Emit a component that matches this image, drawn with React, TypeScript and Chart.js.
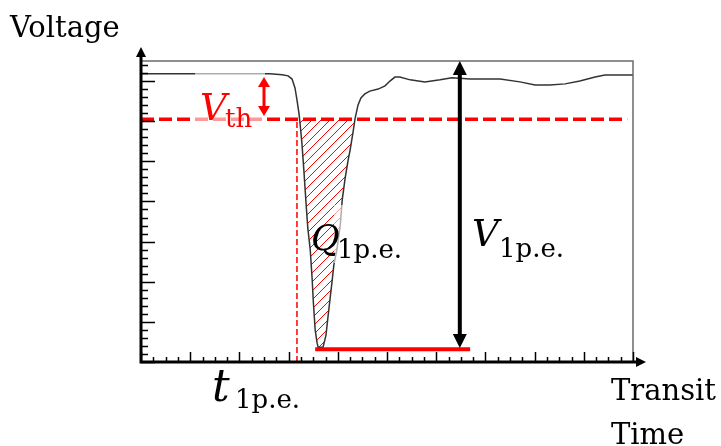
import React, { useEffect, useRef } from "react";
import { Chart, registerables } from "chart.js";

Chart.register(...registerables);

// Pulse waveform (transit time in axis units, voltage in axis units)
const timeValues = [
  0.0, 0.39, 1.2, 2.01, 2.62, 2.87, 2.99, 3.07, 3.13, 3.17, 3.21, 3.23, 3.27, 3.31,
  3.35, 3.39, 3.44, 3.48, 3.5, 3.54, 3.58, 3.6, 3.7, 3.76, 3.8, 3.84, 3.88, 3.92,
  3.98, 4.05, 4.09, 4.15, 4.21, 4.25, 4.31, 4.35, 4.41, 4.47, 4.55, 4.65, 4.82,
  4.96, 5.06, 5.16, 5.26, 5.47, 5.77, 6.08, 6.32, 6.69, 7.3, 7.7, 8.01, 8.31, 8.62,
  8.92, 9.23, 9.43, 9.74, 10.0,
];
const voltageValues = [
  7.18, 7.18, 7.18, 7.18, 7.18, 7.16, 7.13, 7.05, 6.83, 6.53, 6.2, 5.98, 5.46, 4.78,
  4.04, 3.34, 2.79, 2.04, 1.55, 0.8, 0.47, 0.37, 0.37, 0.67, 1.12, 1.55, 1.97, 2.42,
  2.79, 3.41, 4.04, 4.59, 5.03, 5.28, 5.73, 6.06, 6.4, 6.58, 6.68, 6.75, 6.8,
  6.88, 7.0, 7.1, 7.1, 7.03, 6.98, 7.03, 7.08, 7.05, 7.05, 6.98, 6.9, 6.9, 6.93,
  7.0, 7.1, 7.15, 7.15, 7.15,
];

// Axis extents and tick steps
const timeRange = [0, 10];
const voltageRange = [0, 7.5];
const timeMajorStep = 1;
const timeMinorStep = 0.25;
const voltageMajorStep = 1;
const voltageMinorStep = 0.2;

// Annotations
const thresholdVoltage = 6.05;
const thresholdLineEnd = 9.88;
const crossingTime = 3.17;
const thresholdArrowTime = 2.5;
const thresholdArrowSpan = [7.1, 6.13];
const amplitudeTime = 6.48;
const amplitudeSpan = [7.5, 0.35];
const peakLevel = 0.32;
const peakBarSpan = [3.54, 6.69];

const RED = "#ff0000";
const SERIF = '"DejaVu Serif", "Liberation Serif", serif';

function makeHatch(): CanvasPattern | string {
  const s = 9;
  const c = document.createElement("canvas");
  c.width = s;
  c.height = s;
  const g = c.getContext("2d");
  if (!g) return "rgba(255,0,0,0.3)";
  g.strokeStyle = RED;
  g.lineWidth = 1;
  g.beginPath();
  g.moveTo(0, s);
  g.lineTo(s, 0);
  g.moveTo(-1, 1);
  g.lineTo(1, -1);
  g.moveTo(s - 1, s + 1);
  g.lineTo(s + 1, s - 1);
  g.stroke();
  const p = g.createPattern(c, "repeat");
  return p || "rgba(255,0,0,0.3)";
}

function arrowHead(
  ctx: CanvasRenderingContext2D,
  tipX: number,
  tipY: number,
  dx: number,
  dy: number,
  len: number,
  half: number,
  color: string
) {
  // (dx, dy) is the unit direction the head points to
  const bx = tipX - dx * len;
  const by = tipY - dy * len;
  ctx.fillStyle = color;
  ctx.beginPath();
  ctx.moveTo(tipX, tipY);
  ctx.lineTo(bx - dy * half, by + dx * half);
  ctx.lineTo(bx + dy * half, by - dx * half);
  ctx.closePath();
  ctx.fill();
}

function drawSymbol(
  ctx: CanvasRenderingContext2D,
  main: string,
  sub: string,
  x: number,
  y: number,
  mainSize: number,
  subDx: number,
  subDy: number,
  color: string
) {
  ctx.fillStyle = color;
  ctx.textBaseline = "alphabetic";
  ctx.textAlign = "left";
  ctx.font = `italic ${mainSize}px ${SERIF}`;
  ctx.fillText(main, x, y);
  ctx.font = `26px ${SERIF}`;
  ctx.fillText(sub, x + subDx, y + subDy);
}

const decorations = {
  id: "pulseDecorations",
  afterDatasetsDraw(chart: any) {
    const { ctx, chartArea } = chart;
    const xs = chart.scales.x;
    const ys = chart.scales.y;
    const { left, right, top, bottom } = chartArea;
    ctx.save();

    // translucent label backgrounds
    ctx.fillStyle = "rgba(255,255,255,0.6)";
    ctx.fillRect(195, 68, 70, 62);
    ctx.fillRect(334, 205, 66, 58);

    // plot frame (top and right)
    ctx.strokeStyle = "#6b6b6b";
    ctx.lineWidth = 1.5;
    ctx.beginPath();
    ctx.moveTo(left, top);
    ctx.lineTo(right, top);
    ctx.lineTo(right, bottom);
    ctx.stroke();

    // ticks, drawn inward
    ctx.strokeStyle = "#000";
    ctx.lineWidth = 1.5;
    ctx.beginPath();
    for (let v = voltageRange[0]; v <= voltageRange[1] + 1e-9; v += voltageMinorStep) {
      const major = Math.abs(v / voltageMajorStep - Math.round(v / voltageMajorStep)) < 1e-6;
      const py = Math.round(ys.getPixelForValue(v)) + 0.5;
      ctx.moveTo(left, py);
      ctx.lineTo(left + (major ? 14 : 7), py);
    }
    for (let t = timeRange[0]; t <= timeRange[1] + 1e-9; t += timeMinorStep) {
      const major = Math.abs(t / timeMajorStep - Math.round(t / timeMajorStep)) < 1e-6;
      const px = Math.round(xs.getPixelForValue(t)) + 0.5;
      ctx.moveTo(px, bottom);
      ctx.lineTo(px, bottom - (major ? 10 : 5));
    }
    ctx.stroke();

    // axes with arrows
    ctx.lineWidth = 3;
    ctx.beginPath();
    ctx.moveTo(left, bottom + 1.5);
    ctx.lineTo(left, top - 8);
    ctx.moveTo(left - 1.5, bottom);
    ctx.lineTo(right + 8, bottom);
    ctx.stroke();
    arrowHead(ctx, left, top - 14, 0, -1, 10, 5, "#000");
    arrowHead(ctx, right + 13, bottom, 1, 0, 10, 5, "#000");

    // threshold arrow
    const tx = xs.getPixelForValue(thresholdArrowTime);
    const tTop = ys.getPixelForValue(thresholdArrowSpan[0]);
    const tBot = ys.getPixelForValue(thresholdArrowSpan[1]);
    ctx.strokeStyle = RED;
    ctx.lineWidth = 3;
    ctx.beginPath();
    ctx.moveTo(tx, tTop + 8);
    ctx.lineTo(tx, tBot - 8);
    ctx.stroke();
    arrowHead(ctx, tx, tTop, 0, -1, 10, 6, RED);
    arrowHead(ctx, tx, tBot, 0, 1, 10, 6, RED);

    // amplitude arrow
    const ax = xs.getPixelForValue(amplitudeTime);
    const aTop = ys.getPixelForValue(amplitudeSpan[0]);
    const aBot = ys.getPixelForValue(amplitudeSpan[1]);
    ctx.strokeStyle = "#000";
    ctx.lineWidth = 4;
    ctx.beginPath();
    ctx.moveTo(ax, aTop + 10);
    ctx.lineTo(ax, aBot - 10);
    ctx.stroke();
    arrowHead(ctx, ax, aTop, 0, -1, 14, 7, "#000");
    arrowHead(ctx, ax, aBot, 0, 1, 14, 7, "#000");

    // axis titles
    ctx.fillStyle = "#000";
    ctx.textAlign = "left";
    ctx.textBaseline = "alphabetic";
    ctx.font = `29px ${SERIF}`;
    ctx.fillText("Voltage", 10, 37);
    ctx.fillText("Transit", 611, 400);
    ctx.fillText("Time", 611, 444);

    // symbols
    drawSymbol(ctx, "V", "th", 200, 120, 37, 25, 7, RED);
    drawSymbol(ctx, "Q", "1p.e.", 311, 250, 35, 26, 8, "#000");
    drawSymbol(ctx, "V", "1p.e.", 472, 246, 37, 27, 11, "#000");
    drawSymbol(ctx, "t", "1p.e.", 212, 401, 44, 23, 7, "#000");

    ctx.restore();
  },
};

export default function App() {
  const canvasRef = useRef<HTMLCanvasElement | null>(null);

  useEffect(() => {
    const canvas = canvasRef.current;
    if (!canvas) return;
    const waveform = timeValues.map((t, i) => ({ x: t, y: voltageValues[i] }));
    const chart = new Chart(canvas, {
      type: "line",
      data: {
        datasets: [
          {
            label: "threshold",
            data: [
              { x: timeRange[0], y: thresholdVoltage },
              { x: thresholdLineEnd, y: thresholdVoltage },
            ],
            borderColor: RED,
            borderWidth: 3.5,
            borderDash: [13, 5],
            pointRadius: 0,
            fill: false,
            order: 3,
          },
          {
            label: "waveform",
            data: waveform,
            borderColor: "#333333",
            borderWidth: 1.5,
            pointRadius: 0,
            tension: 0,
            backgroundColor: makeHatch() as any,
            fill: {
              target: { value: thresholdVoltage },
              above: "rgba(0,0,0,0)",
              below: makeHatch() as any,
            },
            order: 2,
          },
          {
            label: "arrival",
            data: [
              { x: crossingTime, y: voltageRange[0] },
              { x: crossingTime, y: thresholdVoltage },
            ],
            borderColor: RED,
            borderWidth: 1.5,
            borderDash: [6, 3],
            pointRadius: 0,
            fill: false,
            order: 1,
          },
          {
            label: "peak",
            data: [
              { x: peakBarSpan[0], y: peakLevel },
              { x: peakBarSpan[1], y: peakLevel },
            ],
            borderColor: RED,
            borderWidth: 4,
            pointRadius: 0,
            fill: false,
            order: 0,
          },
        ],
      },
      options: {
        responsive: false,
        animation: false,
        events: [],
        layout: { padding: { left: 141, right: 88, top: 61, bottom: 84 } },
        plugins: {
          legend: { display: false },
          tooltip: { enabled: false },
          filler: { propagate: false },
        },
        scales: {
          x: { type: "linear", min: timeRange[0], max: timeRange[1], display: false },
          y: { type: "linear", min: voltageRange[0], max: voltageRange[1], display: false },
        },
      },
      plugins: [decorations],
    });
    return () => chart.destroy();
  }, []);

  return (
    <div style={{ position: "fixed", left: 0, top: 0, width: 721, height: 446, background: "#fff" }}>
      <canvas ref={canvasRef} width={721} height={446} style={{ display: "block" }} />
    </div>
  );
}
